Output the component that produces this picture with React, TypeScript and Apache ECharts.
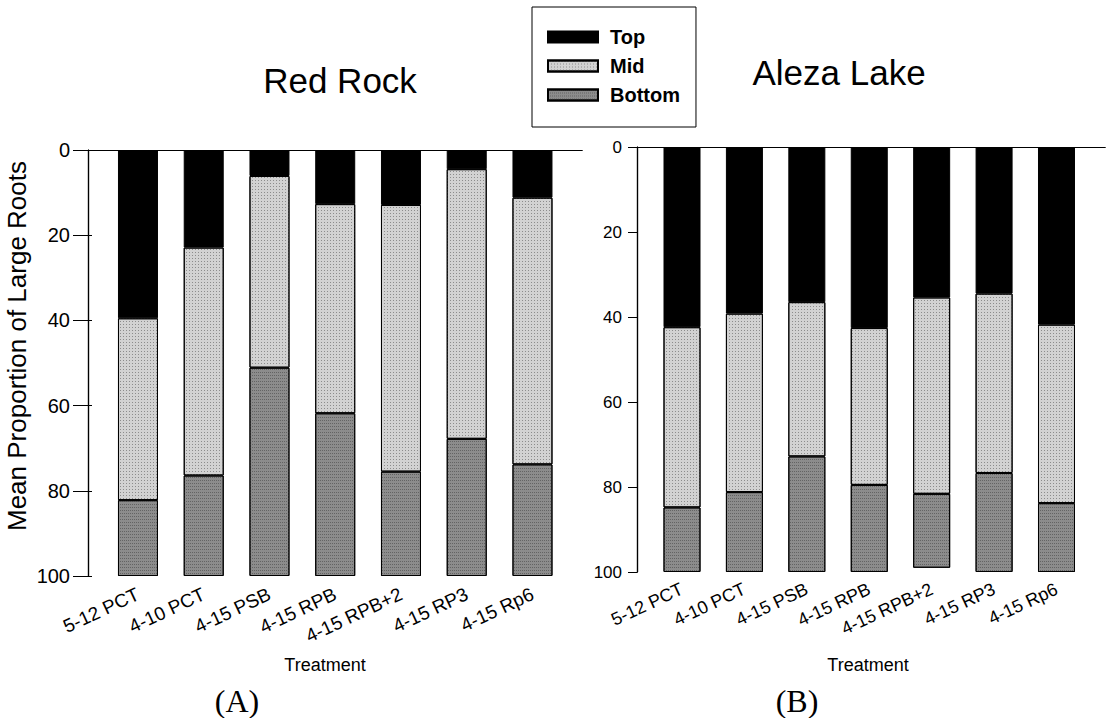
import React, { useEffect, useRef } from "react";
import * as echarts from "echarts";

// Treatments shared by both sites
const categories = [
  "5-12 PCT",
  "4-10 PCT",
  "4-15 PSB",
  "4-15 RPB",
  "4-15 RPB+2",
  "4-15 RP3",
  "4-15 Rp6",
];

// Red Rock: mean proportion of large roots by depth layer (%)
const redRockTop = [39.5, 22.9, 6.1, 12.7, 12.9, 4.5, 11.2];
const redRockMid = [42.7, 53.5, 45.0, 49.1, 62.6, 63.3, 62.6];
const redRockBottom = [17.8, 23.6, 48.9, 38.2, 24.5, 32.2, 26.2];

// Aleza Lake: mean proportion of large roots by depth layer (%)
const alezaTop = [42.4, 39.2, 36.5, 42.6, 35.4, 34.5, 41.8];
const alezaMid = [42.4, 42.0, 36.3, 36.9, 46.2, 42.2, 42.0];
const alezaBottom = [15.2, 18.8, 27.2, 20.5, 17.4, 23.3, 16.2];

const layerNames = ["Top", "Mid", "Bottom"];
const yMin = 0;
const yMax = 100;
const yStep = 20;

const SANS = "'Liberation Sans', Arial, Helvetica, sans-serif";
const SERIF = "'Liberation Serif', 'Times New Roman', serif";

// Fill per layer: solid black, light stipple, dark stipple
const layerStyles = [
  { color: "#000000" },
  {
    color: "#d2d2d2",
    decal: {
      symbol: "rect",
      symbolSize: 1,
      dashArrayX: [1, 2],
      dashArrayY: [1, 2],
      color: "#8c8c8c",
    },
  },
  {
    color: "#8c8c8c",
    decal: {
      symbol: "rect",
      symbolSize: 1,
      dashArrayX: [1, 1],
      dashArrayY: [1, 2],
      color: "#636363",
    },
  },
];

function buildOption() {
  const frameAxisX = (gridIndex: number, position: "top" | "bottom") => ({
    type: "value",
    gridIndex,
    position,
    min: 0,
    max: 1,
    axisLine: { show: true, lineStyle: { color: "#000", width: 1.2 } },
    axisTick: { show: false },
    axisLabel: { show: false },
    splitLine: { show: false },
  });

  const categoryAxis = (gridIndex: number, fontSize: number, margin: number) => ({
    type: "category",
    gridIndex,
    data: categories,
    position: "bottom",
    axisLine: { show: true, lineStyle: { color: "#000", width: 1.2 } },
    axisTick: {
      show: true,
      alignWithLabel: true,
      length: 6,
      lineStyle: { color: "#000" },
    },
    axisLabel: {
      rotate: 25,
      margin,
      fontSize,
      fontFamily: SANS,
      color: "#000",
      interval: 0,
    },
    splitLine: { show: false },
  });

  const valueAxisY = (
    gridIndex: number,
    position: "left" | "right",
    opts: { show: boolean; tickLen?: number; fontSize?: number; margin?: number }
  ) => ({
    type: "value",
    gridIndex,
    position,
    inverse: true,
    min: yMin,
    max: yMax,
    interval: yStep,
    show: opts.show,
    axisLine: { show: true, lineStyle: { color: "#000", width: 1.2 } },
    axisTick: {
      show: (opts.tickLen ?? 0) > 0,
      length: opts.tickLen ?? 0,
      lineStyle: { color: "#000" },
    },
    axisLabel: {
      show: !!opts.fontSize,
      fontSize: opts.fontSize ?? 12,
      margin: opts.margin ?? 8,
      fontFamily: SANS,
      color: "#000",
    },
    splitLine: { show: false },
  });

  const stackSeries = (
    values: number[][],
    xAxisIndex: number,
    yAxisIndex: number,
    stack: string,
    barWidth: number
  ) =>
    values.map((data, i) => ({
      name: layerNames[i],
      type: "bar",
      stack,
      xAxisIndex,
      yAxisIndex,
      barWidth,
      data,
      itemStyle: {
        ...layerStyles[i],
        borderColor: "#000",
        borderWidth: 1,
      },
    }));

  const label = (
    text: string,
    x: number,
    y: number,
    font: string,
    rotation = 0
  ) => ({
    type: "text",
    x,
    y,
    rotation,
    style: {
      text,
      font,
      fill: "#000",
      align: "center",
      verticalAlign: "middle",
    },
  });

  return {
    animation: false,
    backgroundColor: "#ffffff",
    aria: { enabled: false },
    legend: {
      data: layerNames,
      orient: "vertical",
      left: 532,
      top: 7,
      padding: [20, 16, 22, 15],
      itemWidth: 50,
      itemHeight: 11,
      itemGap: 9,
      icon: "rect",
      borderColor: "#000",
      borderWidth: 1,
      selectedMode: false,
      textStyle: {
        fontFamily: SANS,
        fontSize: 20,
        fontWeight: "bold",
        color: "#000",
        padding: [0, 0, 0, 7],
      },
    },
    grid: [
      { left: 88, top: 150, width: 494, height: 426 },
      { left: 105.1, top: 150, width: 460.25, height: 426 },
      { left: 637, top: 147, width: 468, height: 425 },
      { left: 650.8, top: 147, width: 436.9, height: 425 },
    ],
    xAxis: [
      frameAxisX(0, "bottom"),
      frameAxisX(0, "top"),
      categoryAxis(1, 19, 17),
      frameAxisX(2, "bottom"),
      frameAxisX(2, "top"),
      categoryAxis(3, 18, 16),
    ],
    yAxis: [
      valueAxisY(0, "left", { show: true, tickLen: 15, fontSize: 20, margin: 18 }),
      valueAxisY(0, "right", { show: true, tickLen: 4 }),
      valueAxisY(1, "left", { show: false }),
      valueAxisY(2, "left", { show: true, tickLen: 9, fontSize: 17, margin: 15 }),
      valueAxisY(2, "right", { show: true }),
      valueAxisY(3, "left", { show: false }),
    ],
    series: [
      ...stackSeries([redRockTop, redRockMid, redRockBottom], 2, 2, "redRock", 40),
      ...stackSeries([alezaTop, alezaMid, alezaBottom], 5, 5, "aleza", 37),
    ],
    graphic: [
      label("Red Rock", 340, 80.5, `35px ${SANS}`),
      label("Aleza Lake", 839, 72.5, `35px ${SANS}`),
      label("Mean Proportion of Large Roots", 17, 346, `26px ${SANS}`, Math.PI / 2),
      label("Treatment", 325, 665, `18px ${SANS}`),
      label("Treatment", 868, 665, `18px ${SANS}`),
      label("(A)", 237, 701, `32px ${SERIF}`),
      label("(B)", 797, 701, `32px ${SERIF}`),
    ],
  };
}

export default function App() {
  const ref = useRef<HTMLDivElement>(null);

  useEffect(() => {
    if (!ref.current) return;
    const chart = echarts.init(ref.current, undefined, { renderer: "svg" });
    chart.setOption(buildOption() as any);
    return () => chart.dispose();
  }, []);

  return (
    <div
      ref={ref}
      style={{ position: "fixed", left: 0, top: 0, width: 1120, height: 718, background: "#fff" }}
    />
  );
}
